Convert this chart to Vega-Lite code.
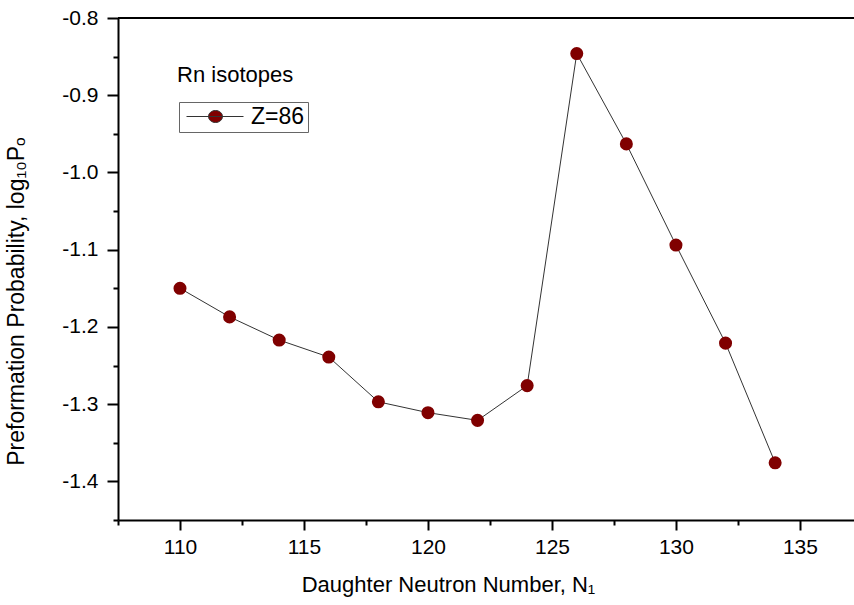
{
  "$schema": "https://vega.github.io/schema/vega-lite/v6.json",
  "width": 736,
  "height": 502,
  "autosize": {"type": "none"},
  "padding": {"left": 118, "top": 18, "right": 0, "bottom": 85},
  "background": "white",
  "config": {
    "view": {"stroke": null},
    "font": "Liberation Sans",
    "axis": {"grid": false, "domainColor": "black", "domainWidth": 2, "tickColor": "black", "tickWidth": 2, "labelColor": "black", "titleColor": "black", "labelFont": "Liberation Sans", "titleFont": "Liberation Sans", "titleFontWeight": "normal"}
  },
  "datasets": {
    "rn": [
      {"N": 110, "logP": -1.150, "series": "Z=86"},
      {"N": 112, "logP": -1.187, "series": "Z=86"},
      {"N": 114, "logP": -1.217, "series": "Z=86"},
      {"N": 116, "logP": -1.239, "series": "Z=86"},
      {"N": 118, "logP": -1.297, "series": "Z=86"},
      {"N": 120, "logP": -1.311, "series": "Z=86"},
      {"N": 122, "logP": -1.321, "series": "Z=86"},
      {"N": 124, "logP": -1.276, "series": "Z=86"},
      {"N": 126, "logP": -0.846, "series": "Z=86"},
      {"N": 128, "logP": -0.963, "series": "Z=86"},
      {"N": 130, "logP": -1.094, "series": "Z=86"},
      {"N": 132, "logP": -1.221, "series": "Z=86"},
      {"N": 134, "logP": -1.376, "series": "Z=86"}
    ],
    "note": [{"label": "Rn isotopes"}]
  },
  "layer": [
    {
      "data": {"name": "rn"},
      "mark": {"type": "line", "color": "#333333", "strokeWidth": 1},
      "encoding": {
        "x": {
          "field": "N", "type": "quantitative",
          "scale": {"domain": [107.5, 137.18], "nice": false, "zero": false},
          "axis": {
            "title": "Daughter Neutron Number, N₁",
            "titleFontSize": 22,
            "titleX": 330, "titleY": 71, "titleAlign": "center", "titleBaseline": "alphabetic",
            "values": [107.5, 110, 112.5, 115, 117.5, 120, 122.5, 125, 127.5, 130, 132.5, 135],
            "tickCount": 100,
            "tickSize": {"condition": {"test": "datum.value % 5 == 0", "value": 10}, "value": 5},
            "labelExpr": "datum.value % 5 == 0 ? format(datum.value, 'd') : ''",
            "labelFontSize": 21,
            "labelPadding": 6,
            "labelFlush": false,
            "labelOverlap": false
          }
        },
        "y": {
          "field": "logP", "type": "quantitative",
          "scale": {"domain": [-1.45, -0.8], "nice": false, "zero": false},
          "axis": {
            "title": "Preformation Probability, log₁₀Pₒ",
            "titleFontSize": 23,
            "titleX": -95, "titleY": 283, "titleAlign": "center", "titleBaseline": "alphabetic", "titleAngle": 270,
            "values": [-1.45, -1.4, -1.35, -1.3, -1.25, -1.2, -1.15, -1.1, -1.05, -1.0, -0.95, -0.9, -0.85, -0.8],
            "tickCount": 100,
            "tickSize": {"condition": {"test": "abs(datum.value*10 - round(datum.value*10)) < 0.01", "value": 11}, "value": 5},
            "labelExpr": "abs(datum.value*10 - round(datum.value*10)) < 0.01 ? replace(format(datum.value, '.1f'), '−', '-') : ''",
            "labelFontSize": 21,
            "labelPadding": 9,
            "labelFlush": false,
            "labelOverlap": false
          }
        }
      }
    },
    {
      "data": {"name": "rn"},
      "mark": {"type": "point", "filled": true, "opacity": 1, "size": 170},
      "encoding": {
        "x": {"field": "N", "type": "quantitative"},
        "y": {"field": "logP", "type": "quantitative"},
        "color": {
          "field": "series", "type": "nominal",
          "scale": {"range": ["#800000"]},
          "legend": {
            "title": null,
            "orient": "none",
            "legendX": 61,
            "legendY": 84,
            "strokeColor": "#666666",
            "padding": 3,
            "symbolType": "M-0.7,0L5,0M1.5,0A0.7,0.6 0 1,0 2.9,0A0.7,0.6 0 1,0 1.5,0Z",
            "symbolSize": 400,
            "symbolStrokeColor": "#333333",
            "symbolStrokeWidth": 1,
            "labelFontSize": 23,
            "labelColor": "black",
            "labelOffset": 46,
            "labelFont": "Liberation Sans",
            "encode": {"symbols": {"stroke": {"value": "#333333"}, "strokeWidth": {"value": 1}, "fill": {"value": "#800000"}, "opacity": {"value": 1}}}
          }
        }
      }
    },
    {
      "data": {"name": "note"},
      "mark": {"type": "rule", "color": "black", "strokeWidth": 2},
      "encoding": {"y": {"datum": -0.8}}
    },
    {
      "data": {"name": "note"},
      "mark": {"type": "text", "align": "left", "baseline": "middle", "fontSize": 22, "color": "black", "font": "Liberation Sans"},
      "encoding": {"x": {"datum": 109.88}, "y": {"datum": -0.8734}, "text": {"field": "label"}}
    }
  ]
}
